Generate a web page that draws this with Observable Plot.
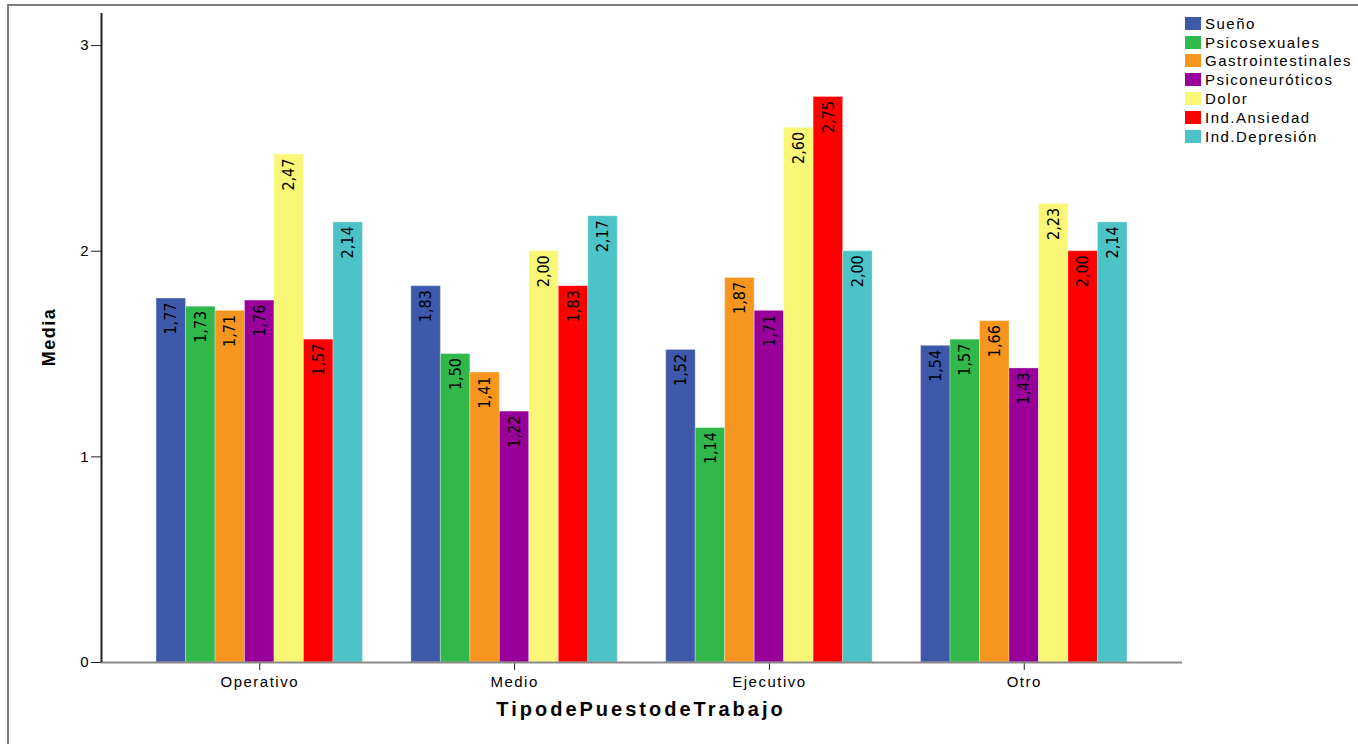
<!DOCTYPE html>
<html>
<head>
<meta charset="utf-8">
<script src="https://cdn.jsdelivr.net/npm/d3@7"></script>
<script src="https://cdn.jsdelivr.net/npm/@observablehq/plot@0.6"></script>
<style>
  body { margin: 0; background: #fff; }
  #wrap { position: relative; width: 1358px; height: 744px; overflow: hidden;
          font-family: "Liberation Sans", Arial, sans-serif; color: #000; }
  #frame { position: absolute; left: 7px; top: 4px; width: 1400px; height: 800px;
           border-top: 2px solid #7d7d7d; border-left: 2px solid #7d7d7d; }
  #chart, #overlay { position: absolute; left: 0; top: 0; }
  #chart g[aria-label="fx-axis tick label"] text { letter-spacing: 1.5px; }
  #overlay g[aria-label="y-axis tick label"] text { letter-spacing: 1px; }
  #ylabel { position: absolute; left: 49px; top: 337px; transform: translate(-50%, -50%) rotate(-90deg);
            font-weight: bold; font-size: 18px; letter-spacing: 1.5px; white-space: nowrap; line-height: 18px; }
  #xlabel { position: absolute; left: 641px; top: 699px; transform: translateX(-50%);
            font-weight: bold; font-size: 20px; letter-spacing: 3px; white-space: nowrap; line-height: 20px; }
  #legend { position: absolute; left: 1185px; top: 14px; font-size: 15px; letter-spacing: 1.5px; }
  #legend .row { display: flex; align-items: center; height: 18.8px; white-space: nowrap; }
  #legend .sw { width: 16px; height: 13px; margin-right: 4px; flex: none; }
</style>
</head>
<body>
<div id="wrap">
  <div id="frame"></div>
  <div id="chart"></div>
  <div id="overlay"></div>
  <div id="ylabel">Media</div>
  <div id="xlabel">TipodePuestodeTrabajo</div>
  <div id="legend"></div>
</div>
<script>
// Job categories (x groups) and symptom scales (series)
const grupos = ["Operativo", "Medio", "Ejecutivo", "Otro"];
const series = ["Sueño", "Psicosexuales", "Gastrointestinales", "Psiconeuróticos", "Dolor", "Ind.Ansiedad", "Ind.Depresión"];
const colores = ["#3f59aa", "#30b84a", "#f7961f", "#990099", "#f9f775", "#ff0000", "#4bc3c7"];

// Mean score per series, one array per job category
const operativo = [1.77, 1.73, 1.71, 1.76, 2.47, 1.57, 2.14];
const medio     = [1.83, 1.50, 1.41, 1.22, 2.00, 1.83, 2.17];
const ejecutivo = [1.52, 1.14, 1.87, 1.71, 2.60, 2.75, 2.00];
const otro      = [1.54, 1.57, 1.66, 1.43, 2.23, 2.00, 2.14];

const yTicks = [0, 1, 2, 3];

const valores = [operativo, medio, ejecutivo, otro];
const filas = grupos.flatMap((g, i) => series.map((s, j) => ({grupo: g, serie: s, valor: valores[i][j]})));

const fmt = v => v.toFixed(2).replace(".", ",");

const dims = {width: 1358, height: 744, marginLeft: 101, marginRight: 176, marginTop: 13, marginBottom: 82};
const yDomain = [0, 3.156];

// Grouped bars, faceted by job category
const chart = Plot.plot({
  ...dims,
  style: {fontFamily: "'Liberation Sans', Arial, sans-serif", fontSize: "15px", background: "transparent", color: "#000"},
  fx: {domain: grupos, paddingInner: 0.19, paddingOuter: 0.216, round: false, label: null},
  x: {domain: series, padding: 0, round: false, axis: null},
  y: {domain: yDomain, axis: null},
  color: {domain: series, range: colores},
  marks: [
    Plot.barY(filas, {fx: "grupo", x: "serie", y: "valor", fill: "serie", inset: 0,
                      stroke: "#ffffff", strokeOpacity: 0.3, strokeWidth: 1}),
    Plot.text(filas, {fx: "grupo", x: "serie", y: "valor", text: d => fmt(d.valor),
                      rotate: -90, textAnchor: "end", lineAnchor: "middle", dy: 4,
                      fontSize: 16, fontFamily: "'Liberation Sans Narrow', 'Arial Narrow', 'DejaVu Sans Condensed', sans-serif",
                      fill: "#000"}),
    Plot.axisFx({anchor: "bottom", tickSize: 8, tickPadding: 6, fontSize: 15, label: null, stroke: "#222"})
  ]
});
document.getElementById("chart").append(chart);

// Value axis, axis line and baseline spanning the whole plot area
const overlay = Plot.plot({
  ...dims,
  style: {fontFamily: "'Liberation Sans', Arial, sans-serif", fontSize: "15px", background: "transparent", color: "#000"},
  x: {domain: [0, 1], axis: null},
  y: {domain: yDomain, axis: null},
  marks: [
    Plot.ruleY([0], {stroke: "#8a8a8a", strokeWidth: 2}),
    Plot.ruleX([0], {stroke: "#222", strokeWidth: 2}),
    Plot.axisY({ticks: yTicks, tickFormat: d => String(d), tickSize: 10, tickPadding: 2, fontSize: 15, label: null, stroke: "#222"})
  ]
});
document.getElementById("overlay").append(overlay);

// Legend
const legend = document.getElementById("legend");
series.forEach((s, i) => {
  const row = document.createElement("div");
  row.className = "row";
  const sw = document.createElement("span");
  sw.className = "sw";
  sw.style.background = colores[i];
  const lab = document.createElement("span");
  lab.textContent = s;
  row.append(sw, lab);
  legend.append(row);
});
</script>
</body>
</html>
